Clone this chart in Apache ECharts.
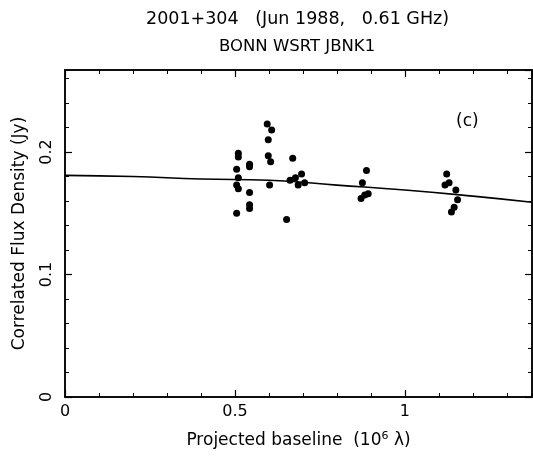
<!DOCTYPE html>
<html>
<head>
<meta charset="UTF-8">
<title>2001+304</title>
<script src="https://cdn.jsdelivr.net/npm/echarts@6/dist/echarts.min.js"></script>
<style>
  html, body { margin: 0; padding: 0; background: #fff; }
  #chart { width: 533px; height: 459px; }
</style>
</head>
<body>
<div id="chart"></div>
<script>
// measured correlated flux (baseline in 10^6 lambda, flux in Jy)
var baseline = [0.51, 0.51, 0.505, 0.51, 0.505, 0.51, 0.505,
  0.543, 0.543, 0.543, 0.543, 0.543,
  0.595, 0.608, 0.598, 0.598, 0.605, 0.602,
  0.67, 0.652, 0.662, 0.678, 0.696, 0.686, 0.705,
  0.887, 0.875, 0.871, 0.882, 0.892,
  1.123, 1.118, 1.13, 1.15, 1.155, 1.145, 1.137];
var flux = [0.199, 0.196, 0.186, 0.179, 0.173, 0.170, 0.150,
  0.190, 0.188, 0.167, 0.157, 0.154,
  0.223, 0.218, 0.210, 0.197, 0.192, 0.173,
  0.195, 0.145, 0.177, 0.179, 0.182, 0.173, 0.175,
  0.185, 0.175, 0.162, 0.165, 0.166,
  0.182, 0.173, 0.175, 0.169, 0.161, 0.155, 0.151];

// model curve
var modelX = [0, 0.2, 0.4, 0.6, 0.8, 1.0, 1.2, 1.374];
var modelY = [0.181, 0.180, 0.178, 0.177, 0.173, 0.169, 0.164, 0.159];

var xMax = 1.374, yMax = 0.267;
var font = 'DejaVu Sans';

var chart = echarts.init(document.getElementById('chart'));

function axisBase(extra) {
  var a = {
    type: 'value',
    axisLine: { show: true, onZero: false, lineStyle: { color: '#000', width: 1.5 } },
    splitLine: { show: false },
    axisLabel: { show: false }
  };
  for (var k in extra) a[k] = extra[k];
  return a;
}

function fmt(step) {
  return function (v) {
    var r = Math.round(v / step);
    if (Math.abs(v - r * step) > 1e-6) return '';
    return String(Math.round(v * 10) / 10);
  };
}

var option = {
  backgroundColor: '#fff',
  animation: false,
  title: [{
    text: '2001+304   (Jun 1988,   0.61 GHz)',
    left: 141, top: 5,
    textStyle: { fontFamily: font, fontSize: 17.5, fontWeight: 'normal', color: '#000' }
  }, {
    text: 'BONN WSRT JBNK1',
    left: 214, top: 33,
    textStyle: { fontFamily: font, fontSize: 16.5, fontWeight: 'normal', color: '#000' }
  }],
  graphic: [{
    type: 'text', left: 456, top: 113,
    style: { text: '(c)', font: '17px "DejaVu Sans"', fill: '#000' }
  }],
  grid: { left: 65, right: 1, top: 70, bottom: 62 },
  xAxis: [
    axisBase({
      min: 0, max: xMax, interval: 0.5, position: 'bottom',
      axisTick: { show: true, inside: true, length: 7, lineStyle: { color: '#000', width: 1.2 } },
      axisLabel: { show: true, formatter: fmt(0.5), color: '#000', fontFamily: font, fontSize: 16, margin: 7, showMaxLabel: false },
      name: 'Projected baseline  (10{sup|6} \u03bb)', nameLocation: 'middle', nameGap: 34,
      nameTextStyle: {
        fontFamily: font, fontSize: 17, color: '#000',
        rich: { sup: { fontFamily: font, fontSize: 11, color: '#000', verticalAlign: 'top', padding: [0, 0, 8, 0] } }
      }
    }),
    axisBase({
      min: 0, max: xMax, interval: 0.1, position: 'bottom',
      axisTick: { show: true, inside: true, length: 4, lineStyle: { color: '#000', width: 1 } }
    }),
    axisBase({
      min: 0, max: xMax, interval: 0.5, position: 'top',
      axisTick: { show: true, inside: true, length: 7, lineStyle: { color: '#000', width: 1.2 } }
    }),
    axisBase({
      min: 0, max: xMax, interval: 0.1, position: 'top',
      axisTick: { show: true, inside: true, length: 4, lineStyle: { color: '#000', width: 1 } }
    })
  ],
  yAxis: [
    axisBase({
      min: 0, max: yMax, interval: 0.1, position: 'left',
      axisTick: { show: true, inside: true, length: 7, lineStyle: { color: '#000', width: 1.2 } },
      axisLabel: { show: true, formatter: fmt(0.1), rotate: 90, color: '#000', fontFamily: font, fontSize: 16, margin: 10, showMaxLabel: false },
      name: 'Correlated Flux Density (Jy)', nameLocation: 'middle', nameGap: 37, nameRotate: 90,
      nameTextStyle: { fontFamily: font, fontSize: 17, color: '#000' }
    }),
    axisBase({
      min: 0, max: yMax, interval: 0.02, position: 'left',
      axisTick: { show: true, inside: true, length: 4, lineStyle: { color: '#000', width: 1 } }
    }),
    axisBase({
      min: 0, max: yMax, interval: 0.1, position: 'right',
      axisTick: { show: true, inside: true, length: 7, lineStyle: { color: '#000', width: 1.2 } }
    }),
    axisBase({
      min: 0, max: yMax, interval: 0.02, position: 'right',
      axisTick: { show: true, inside: true, length: 4, lineStyle: { color: '#000', width: 1 } }
    })
  ],
  series: [{
    type: 'line',
    data: modelX.map(function (x, i) { return [x, modelY[i]]; }),
    smooth: true,
    showSymbol: false,
    lineStyle: { color: '#000', width: 1.6 },
    z: 2
  }, {
    type: 'scatter',
    data: baseline.map(function (x, i) { return [x, flux[i]]; }),
    symbol: 'circle',
    symbolSize: 7,
    itemStyle: { color: '#000', opacity: 1 },
    z: 3
  }]
};

chart.setOption(option);
</script>
</body>
</html>
